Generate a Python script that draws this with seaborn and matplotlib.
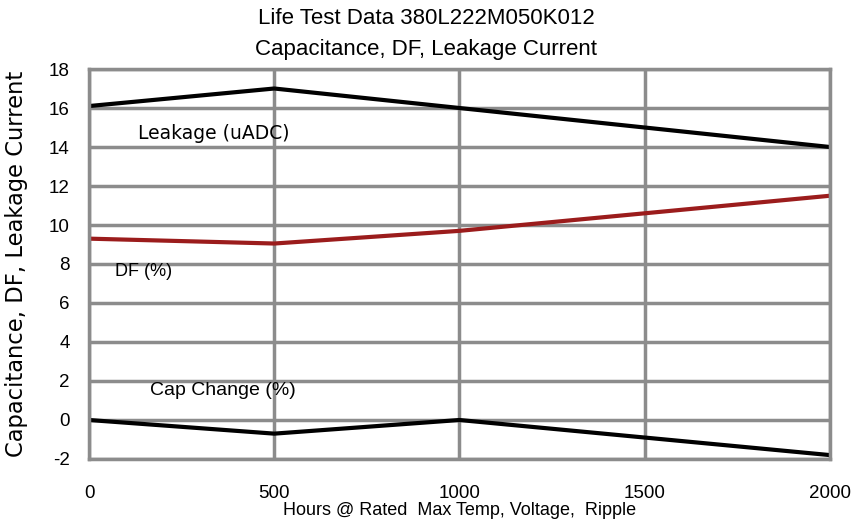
import matplotlib
matplotlib.use("Agg")
import matplotlib.pyplot as plt
import pandas as pd
import seaborn as sns

# Life test readings
hours = [0, 500, 1000, 1500, 2000]
leakage = [16.1, 17.0, 16.0, 15.0, 14.0]
df_pct = [9.3, 9.05, 9.7, 10.6, 11.5]
cap_change = [0.0, -0.7, 0.0, -0.9, -1.8]

data = pd.DataFrame({"hours": hours, "Leakage (uADC)": leakage,
                     "DF (%)": df_pct, "Cap Change (%)": cap_change})

sns.set_style("white")
plt.rcParams['font.family'] = ['Liberation Sans', 'DejaVu Sans']
plt.rcParams['axes.unicode_minus'] = False
plt.rcParams['text.color'] = 'black'
plt.rcParams['axes.labelcolor'] = 'black'
plt.rcParams['xtick.color'] = 'black'
plt.rcParams['ytick.color'] = 'black'

fig = plt.figure(figsize=(8.52, 5.26), dpi=100)
ax = fig.add_axes([0.1045, 0.1274, 0.8695, 0.7414])

sns.lineplot(data=data, x="hours", y="Leakage (uADC)", color="black", lw=3, ax=ax)
sns.lineplot(data=data, x="hours", y="DF (%)", color="#9b1c1c", lw=3, ax=ax)
sns.lineplot(data=data, x="hours", y="Cap Change (%)", color="black", lw=3, ax=ax)

ax.set_xlim(0, 2000)
ax.set_ylim(-2, 18)
ax.set_xticks(hours)
ax.set_yticks(range(-2, 19, 2))
ax.grid(True, color="#8c8c8c", lw=2.5)
ax.set_axisbelow(True)
for s in ax.spines.values():
    s.set_color("#8c8c8c")
    s.set_linewidth(2.5)
ax.tick_params(length=0, labelsize=13.5)
ax.tick_params(axis="x", pad=19)
ax.tick_params(axis="y", pad=14)

ax.text(132, 14.67, "Leakage (uADC)", fontsize=13.5, va="center", family="DejaVu Sans")
ax.text(70, 7.64, "DF (%)", fontsize=13, va="center")
ax.text(165, 1.5, "Cap Change (%)", fontsize=14, va="center")

ax.set_xlabel("Hours @ Rated  Max Temp, Voltage,  Ripple", fontsize=13, labelpad=0)
ax.set_ylabel("Capacitance, DF, Leakage Current", fontsize=16.3, family="DejaVu Sans")
ax.yaxis.set_label_coords(-0.082, 0.5)

fig.text(0.5, 0.965, "Life Test Data 380L222M050K012", ha="center", va="center", fontsize=16)
fig.text(0.5, 0.905, "Capacitance, DF, Leakage Current", ha="center", va="center", fontsize=16)

fig.savefig("out.png", dpi=100)
